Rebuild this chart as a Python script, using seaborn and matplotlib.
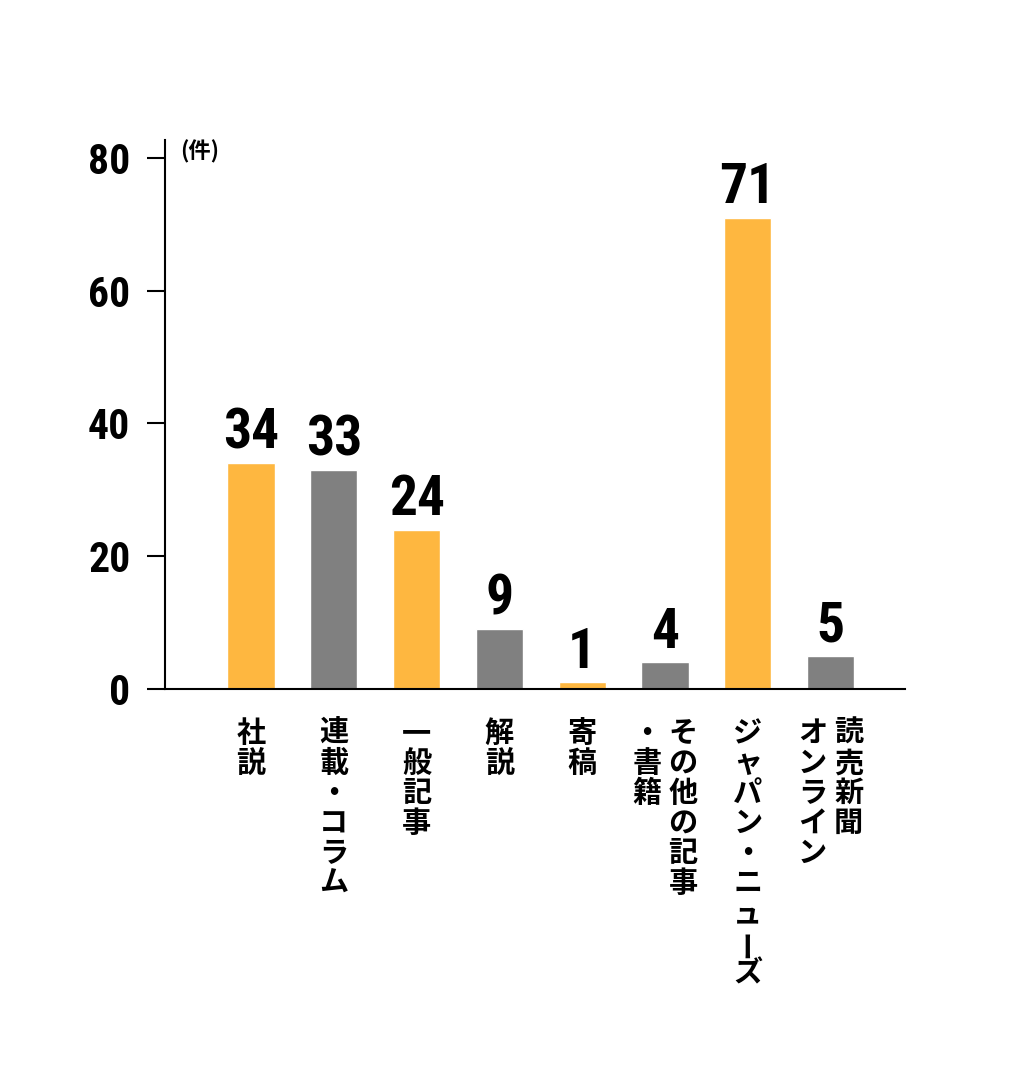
import matplotlib
matplotlib.use("Agg")
import matplotlib.pyplot as plt
from matplotlib import font_manager
import seaborn as sns
import pandas as pd

# ---- data ----
categories = ["社説", "連載・コラム", "一般記事", "解説", "寄稿", "その他の記事・書籍", "ジャパン・ニューズ", "読売新聞オンライン"]
label_columns = [["社説"], ["連載・コラム"], ["一般記事"], ["解説"], ["寄稿"],
                 ["その他の記事", "・書籍"], ["ジャパン・ニューズ"], ["読売新聞", "オンライン"]]
values = [34, 33, 24, 9, 1, 4, 71, 5]
bar_colors = ["#FEB740", "#808080", "#FEB740", "#808080", "#FEB740", "#808080", "#FEB740", "#808080"]
yticks = [0, 20, 40, 60, 80]
unit_label = "(件)"

sns.set_theme(style="white")
plt.rcParams['font.family'] = ['Noto Sans CJK JP', 'DejaVu Sans']
plt.rcParams['text.color'] = 'black'
plt.rcParams['xtick.color'] = 'black'
plt.rcParams['ytick.color'] = 'black'

def pick_font(cands):
    for c in cands:
        try:
            font_manager.findfont(font_manager.FontProperties(family=c), fallback_to_default=False)
            return c
        except Exception:
            continue
    return 'DejaVu Sans'

num_family = pick_font(['Liberation Sans Narrow', 'DejaVu Sans Condensed', 'Roboto Condensed', 'DejaVu Sans'])
num_fp = dict(family=num_family, weight='bold', stretch='condensed')

df = pd.DataFrame({"cat": categories, "val": values})

fig = plt.figure(figsize=(10.17, 10.76), dpi=100)
ax = fig.add_axes([165/1017, 1 - 689/1076, (905-165)/1017, (689-140)/1076])

sns.barplot(data=df, x="cat", y="val", hue="cat", palette=bar_colors, legend=False,
            width=0.57, ax=ax, saturation=1)

ax.set_xlim(-1.04, 7.9)
ax.set_ylim(0, 82.7)
ax.set_yticks(yticks)
ax.set_yticklabels([str(t) for t in yticks], fontsize=30, color='black', **num_fp)
ax.set_xticks(range(len(categories)))
ax.set_xticklabels([""] * len(categories))
ax.tick_params(axis='x', length=0)
ax.tick_params(axis='y', length=13, width=1.5, pad=12, color='black', labelcolor='black', left=True)
ax.set_xlabel("")
ax.set_ylabel("")
for s in ['top', 'right']:
    ax.spines[s].set_visible(False)
for s in ['left', 'bottom']:
    ax.spines[s].set_color('black')
    ax.spines[s].set_linewidth(1.5)

# value labels
for i, v in enumerate(values):
    ax.annotate(str(v), xy=(i, v), xytext=(0, 2.5), textcoords='offset points',
                ha='center', va='bottom', fontsize=40, color='black', **num_fp)

# unit label
ax.text(0.02, 81.0, unit_label, transform=ax.get_yaxis_transform(), fontsize=16,
        fontweight='bold', va='center', ha='left', color='black',
        family=['Noto Sans CJK JP', 'DejaVu Sans'])

# vertical (tategaki) x labels
pitch = 21.6  # points
col_gap = 26.0
for i, cols in enumerate(label_columns):
    n = len(cols)
    for j, col in enumerate(cols):
        dx = ((n - 1) / 2 - j) * col_gap
        for k, ch in enumerate(col):
            rot = 90 if ch == 'ー' else 0
            ax.annotate(ch, xy=(i, 0), xycoords=('data', 'axes fraction'),
                        xytext=(dx, -21.0 - pitch * k - pitch / 2), textcoords='offset points',
                        ha='center', va='center', fontsize=21, fontweight='bold',
                        rotation=rot, color='black', family=['Noto Sans CJK JP', 'DejaVu Sans'],
                        annotation_clip=False)

fig.savefig("out.png", dpi=100)
